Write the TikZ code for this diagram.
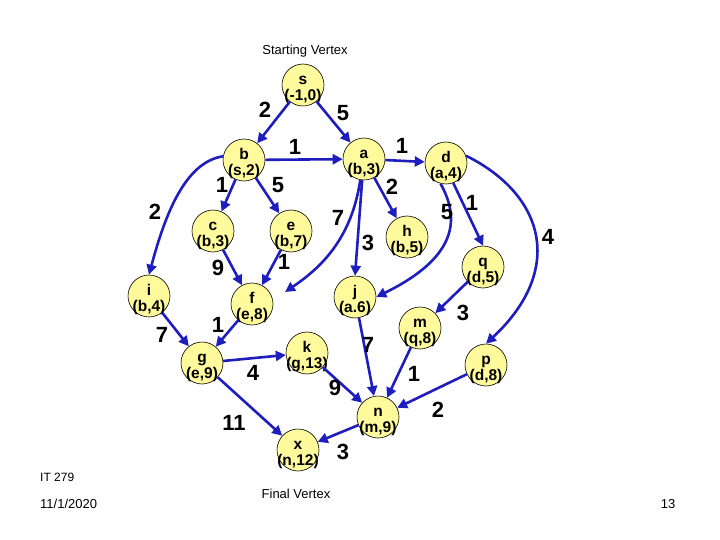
\documentclass[tikz,border=0pt]{standalone}
\usepackage{fontspec}
\setmainfont{Liberation Sans}
\usetikzlibrary{arrows.meta}
\definecolor{edgeblue}{RGB}{30,30,190}
\definecolor{nodefill}{RGB}{255,250,155}
\newcommand{\vlab}[2]{\makebox[0pt]{\smash{\raisebox{-7.5pt}{\begin{tabular}{@{}c@{}}#1\\[-1pt]#2\end{tabular}}}}}
\tikzset{
  vtx/.style={circle,draw=black,line width=0.6pt,fill=nodefill,minimum size=42pt,inner sep=0pt,
    font=\bfseries\fontsize{15.5}{17}\selectfont},
  wt/.style={font=\bfseries\fontsize{22}{24}\selectfont,inner sep=0pt},
  captext/.style={font=\fontsize{13}{15}\selectfont,inner sep=0pt},
  edge/.style={draw=edgeblue,line width=2.6pt,-{Triangle[length=10pt,width=10pt]}}
}
\begin{document}
\begin{tikzpicture}[x=1pt,y=-1pt]
\useasboundingbox (0,0) rectangle (720,540);
% nodes
\node[vtx] (s) at (303,85) {\vlab{s}{(-1,0)}};
\node[vtx] (b) at (244,160) {\vlab{b}{(s,2)}};
\node[vtx] (a) at (364,159) {\vlab{a}{(b,3)}};
\node[vtx] (d) at (446,163) {\vlab{d}{(a,4)}};
\node[vtx] (c) at (213,231) {\vlab{c}{(b,3)}};
\node[vtx] (e) at (291,231) {\vlab{e}{(b,7)}};
\node[vtx] (h) at (407,237) {\vlab{h}{(b,5)}};
\node[vtx] (q) at (483,267) {\vlab{q}{(d,5)}};
\node[vtx] (i) at (149,296) {\vlab{i}{(b,4)}};
\node[vtx] (f) at (252,304) {\vlab{f}{(e,8)}};
\node[vtx] (j) at (355,297) {\vlab{j}{(a.6)}};
\node[vtx] (m) at (420,328) {\vlab{m}{(q,8)}};
\node[vtx] (g) at (202,363) {\vlab{g}{(e,9)}};
\node[vtx] (k) at (307,353) {\vlab{k}{(g,13)}};
\node[vtx] (p) at (486,365) {\vlab{p}{(d,8)}};
\node[vtx] (n) at (378,417) {\vlab{n}{(m,9)}};
\node[vtx] (x) at (298,450) {\vlab{x}{(n,12)}};
% captions
\node[captext] (start) at (305,51) {Starting Vertex};
\node[captext] (final) at (296,494) {Final Vertex};
\node[captext,font=\fontsize{12}{14}\selectfont,anchor=west] (it) at (40,477) {IT 279};
\node[captext,anchor=west] (date) at (40,504) {11/1/2020};
\node[captext] (pg) at (668,504) {13};
% edges
\draw[edge] (s) -- (b);
\draw[edge] (s) -- (a);
\draw[edge] (b) -- (a);
\draw[edge] (a) -- (d);
\draw[edge] (b) -- (c);
\draw[edge] (b) -- (e);
\draw[edge] (b.170) .. controls (185,162) and (165,215) .. (i.north);
\draw[edge] (a) -- (h);
\draw[edge] (a.260) .. controls (352,235) and (325,265) .. (285,292);
\draw[edge] (a.265) -- (j.north);
\draw[edge] (d.255) .. controls (458,215) and (462,255) .. (j.east);
\draw[edge] (d.290) -- (q.north);
\draw[edge] (d.20) .. controls (545,195) and (565,270) .. (p.north);
\draw[edge] (c) -- (f);
\draw[edge] (e) -- (f);
\draw[edge] (i) -- (g);
\draw[edge] (f) -- (g);
\draw[edge] (g) -- (k);
\draw[edge] (g) -- (x);
\draw[edge] (k) -- (n);
\draw[edge] (j) -- (n);
\draw[edge] (m) -- (n);
\draw[edge] (p) -- (n);
\draw[edge] (n) -- (x);
\draw[edge] (q) -- (m);
% weights
\node[wt] (w1) at (265,110) {2};
\node[wt] (w2) at (343,113) {5};
\node[wt] (w3) at (295,147) {1};
\node[wt] (w4) at (402,146) {1};
\node[wt] (w5) at (222,185) {1};
\node[wt] (w6) at (278,185) {5};
\node[wt] (w7) at (155,212) {2};
\node[wt] (w8) at (392,187) {2};
\node[wt] (w9) at (338,218) {7};
\node[wt] (w10) at (368,243) {3};
\node[wt] (w11) at (447,212) {5};
\node[wt] (w12) at (472,203) {1};
\node[wt] (w13) at (548,237) {4};
\node[wt] (w14) at (218,268) {9};
\node[wt] (w15) at (284,262) {1};
\node[wt] (w16) at (162,335) {7};
\node[wt] (w17) at (218,325) {1};
\node[wt] (w18) at (253,373) {4};
\node[wt] (w19) at (234,423) {11};
\node[wt] (w20) at (335,388) {9};
\node[wt] (w21) at (368,345) {7};
\node[wt] (w22) at (414,374) {1};
\node[wt] (w23) at (438,410) {2};
\node[wt] (w24) at (343,452) {3};
\node[wt] (w25) at (463,313) {3};
\end{tikzpicture}
\end{document}
